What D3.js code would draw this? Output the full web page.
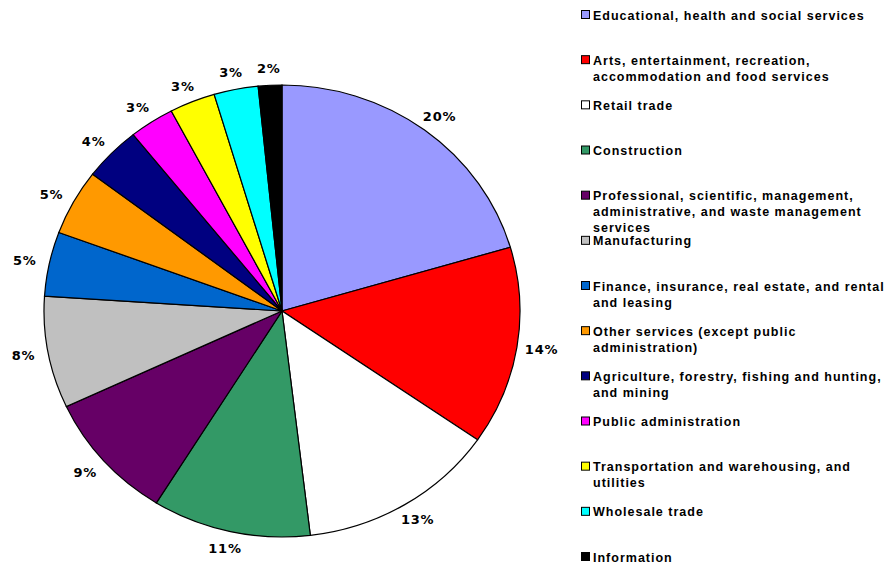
<!DOCTYPE html>
<html>
<head>
<meta charset="utf-8">
<script src="https://cdn.jsdelivr.net/npm/d3@7"></script>
<style>
  body { margin: 0; background: #fff; }
  svg { display: block; }
</style>
</head>
<body>
<div id="chart"></div>
<script>
// categories, broken into lines the way the legend shows them
const categories = [
  ["Educational, health and social services"],
  ["Arts, entertainment, recreation,", "accommodation and food services"],
  ["Retail trade"],
  ["Construction"],
  ["Professional, scientific, management,", "administrative, and waste management", "services"],
  ["Manufacturing"],
  ["Finance, insurance, real estate, and rental", "and leasing"],
  ["Other services (except public", "administration)"],
  ["Agriculture, forestry, fishing and hunting,", "and mining"],
  ["Public administration"],
  ["Transportation and warehousing, and", "utilities"],
  ["Wholesale trade"],
  ["Information"]
];

// share of employment, percent
const shares = [20.45, 14.2, 13.45, 10.75, 9.2, 8.0, 4.6, 4.7, 3.9, 3.05, 3.1, 3.0, 1.6];

const colors = ["#9999ff", "#ff0000", "#ffffff", "#339966", "#660066", "#c0c0c0",
  "#0066cc", "#ff9900", "#000080", "#ff00ff", "#ffff00", "#00ffff", "#000000"];

const width = 895, height = 567;
const cx = 282, cy = 311;
const radius = 238;
const squash = 226 / 238;   // pie is drawn slightly flattened
const labelR = 263, labelSquash = 243 / 263;

const svg = d3.select("#chart")
  .append("svg")
  .attr("width", width)
  .attr("height", height);

const data = shares.map((v, i) => ({ name: categories[i], value: v, color: colors[i] }));

const pie = d3.pie()
  .value(d => d.value)
  .sort(null);

const arcs = pie(data);

const arc = d3.arc()
  .innerRadius(0)
  .outerRadius(radius);

const labelArc = d3.arc()
  .innerRadius(labelR)
  .outerRadius(labelR);

const g = svg.append("g")
  .attr("transform", "translate(" + cx + "," + cy + ") scale(1," + squash + ")");

g.selectAll("path")
  .data(arcs)
  .enter()
  .append("path")
  .attr("d", arc)
  .attr("fill", d => d.data.color)
  .attr("stroke", "#000")
  .attr("stroke-width", 1.2)
  .attr("vector-effect", "non-scaling-stroke");

// percent labels outside the pie
svg.append("g")
  .selectAll("text")
  .data(arcs)
  .enter()
  .append("text")
  .attr("x", d => cx + labelArc.centroid(d)[0])
  .attr("y", d => cy + labelArc.centroid(d)[1] * labelSquash)
  .attr("dy", "0.36em")
  .attr("text-anchor", "middle")
  .attr("font-family", "DejaVu Sans, Verdana, sans-serif")
  .attr("font-weight", "bold")
  .attr("font-size", "13px")
  .attr("letter-spacing", "0.8px")
  .attr("fill", "#000")
  .text(d => Math.round(d.data.value) + "%");

// legend
const legendY = d3.scaleLinear()
  .domain([0, categories.length - 1])
  .range([15, 557]);

const legend = svg.append("g")
  .selectAll("g")
  .data(data)
  .enter()
  .append("g")
  .attr("transform", (d, i) => "translate(581," + legendY(i) + ")");

legend.append("rect")
  .attr("x", 0.5)
  .attr("y", -4.5)
  .attr("width", 8)
  .attr("height", 8)
  .attr("fill", d => d.color)
  .attr("stroke", "#000")
  .attr("stroke-width", 1);

legend.append("text")
  .attr("font-family", "Liberation Sans, Arial, sans-serif")
  .attr("font-weight", "bold")
  .attr("font-size", "12.5px")
  .attr("letter-spacing", "1px")
  .attr("fill", "#000")
  .selectAll("tspan")
  .data(d => d.name)
  .enter()
  .append("tspan")
  .attr("x", 12)
  .attr("y", (d, i) => 4.5 + i * 16)
  .text(d => d);
</script>
</body>
</html>
